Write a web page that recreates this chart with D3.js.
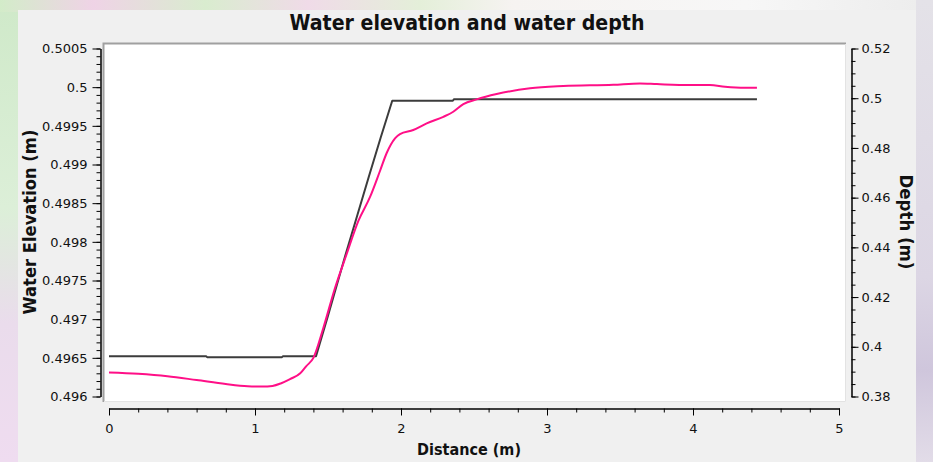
<!DOCTYPE html>
<html>
<head>
<meta charset="utf-8">
<script src="https://cdn.jsdelivr.net/npm/d3@7"></script>
<style>
  html, body { margin: 0; padding: 0; background: #f0f0f0; }
  svg { display: block; }
</style>
</head>
<body>
<svg id="chart" width="933" height="462"></svg>
<script>
// Water elevation along the channel (left axis)
const elevationDistance = [0, 0.2, 0.4, 0.6, 0.8, 0.95, 1.05, 1.12, 1.18, 1.24, 1.31, 1.35, 1.40,
  1.468, 1.548, 1.628, 1.708, 1.788, 1.856, 1.902, 1.959, 1.993, 2.084, 2.176, 2.290, 2.358, 2.427,
  2.518, 2.655, 2.884, 3.112, 3.454, 3.637, 3.753, 3.979, 4.116, 4.219, 4.356, 4.438];
const elevation = [0.496311, 0.496293, 0.496262, 0.496213, 0.496162, 0.496134, 0.496129, 0.496137,
  0.496172, 0.496225, 0.496300, 0.496390, 0.496500,
  0.496886, 0.497403, 0.497843, 0.498270, 0.498580, 0.498916, 0.499149, 0.499339, 0.499394, 0.499446,
  0.499531, 0.499617, 0.499682, 0.499781, 0.499842, 0.499911,
  0.499985, 0.500014, 0.500031, 0.500049, 0.500040, 0.500027, 0.500027, 0.500005, 0.499992, 0.499992];

// Water depth along the channel (right axis)
const depthDistance = [0, 0.665, 0.672, 1.185, 1.192, 1.418, 1.50, 1.62, 1.78, 1.86,
  1.940, 2.355, 2.362, 4.438];
const depth = [0.39624, 0.39624, 0.39583, 0.39583, 0.39624, 0.39624, 0.4125, 0.4370, 0.4685, 0.4840,
  0.49898, 0.49898, 0.49954, 0.49954];

const elevationTicks = [0.496, 0.4965, 0.497, 0.4975, 0.498, 0.4985, 0.499, 0.4995, 0.5, 0.5005];
const depthTicks = [0.38, 0.40, 0.42, 0.44, 0.46, 0.48, 0.50, 0.52];
const distanceTicks = [0, 1, 2, 3, 4, 5];

const titleText = "Water elevation and water depth";
const xTitle = "Distance (m)";
const yLeftTitle = "Water Elevation (m)";
const yRightTitle = "Depth (m)";

const svg = d3.select("#chart");
const W = 933, H = 462;

// ---- surrounding desktop backdrop ----
const defs = svg.append("defs");
const gLeft = defs.append("linearGradient").attr("id", "gl").attr("x1", 0).attr("y1", 0).attr("x2", 0).attr("y2", 1);
gLeft.append("stop").attr("offset", "0%").attr("stop-color", "#cfe9c9");
gLeft.append("stop").attr("offset", "45%").attr("stop-color", "#dcefd8");
gLeft.append("stop").attr("offset", "70%").attr("stop-color", "#eadcec");
gLeft.append("stop").attr("offset", "100%").attr("stop-color", "#efdcf0");
const gTop = defs.append("linearGradient").attr("id", "gt").attr("x1", 0).attr("y1", 0).attr("x2", 1).attr("y2", 0);
[["0%", "#d3ecc9"], ["10%", "#efd3e6"], ["22%", "#d9eccf"], ["33%", "#f0dbe8"], ["45%", "#e4efd9"],
 ["55%", "#f6f3f1"], ["80%", "#f7f7f7"], ["100%", "#ececec"]]
  .forEach(([o, c]) => gTop.append("stop").attr("offset", o).attr("stop-color", c));
const gRight = defs.append("linearGradient").attr("id", "gr").attr("x1", 0).attr("y1", 0).attr("x2", 0).attr("y2", 1);
gRight.append("stop").attr("offset", "0%").attr("stop-color", "#e4e2e8");
gRight.append("stop").attr("offset", "60%").attr("stop-color", "#dcd6e4");
gRight.append("stop").attr("offset", "80%").attr("stop-color", "#cfc6dc");
gRight.append("stop").attr("offset", "100%").attr("stop-color", "#e2dce8");

svg.append("rect").attr("width", W).attr("height", H).attr("fill", "#e8e4ec");
svg.append("rect").attr("x", 0).attr("y", 0).attr("width", 20).attr("height", H).attr("fill", "url(#gl)");
svg.append("rect").attr("x", 0).attr("y", 0).attr("width", W).attr("height", 12).attr("fill", "url(#gt)");
svg.append("rect").attr("x", 916).attr("y", 0).attr("width", W - 916).attr("height", H).attr("fill", "url(#gr)");

// ---- window panel ----
svg.append("rect").attr("x", 18).attr("y", 10).attr("width", 898).attr("height", H - 10).attr("fill", "#f0f0f0");

// ---- plot frame (sunken) ----
const frame = { x0: 103, y0: 43, x1: 846, y1: 402 };
svg.append("rect").attr("x", frame.x0).attr("y", frame.y0)
  .attr("width", frame.x1 - frame.x0).attr("height", frame.y1 - frame.y0).attr("fill", "#ffffff");
svg.append("path")
  .attr("d", `M${frame.x0 + 0.5},${frame.y1}V${frame.y0 + 0.5}H${frame.x1}`)
  .attr("fill", "none").attr("stroke", "#a0a0a0").attr("stroke-width", 2);
svg.append("path")
  .attr("d", `M${frame.x0 + 1},${frame.y1 - 0.5}H${frame.x1 - 0.5}V${frame.y0 + 1}`)
  .attr("fill", "none").attr("stroke", "#e3e3e3").attr("stroke-width", 1);

// ---- scales ----
const x = d3.scaleLinear().domain([0, 5]).range([109, 839]);
const yL = d3.scaleLinear().domain([0.496, 0.5005]).range([396.5, 48.5]);
const yR = d3.scaleLinear().domain([0.38, 0.52]).range([396.5, 48.5]);

const fmt = v => String(+v.toFixed(4));
const tickFont = "'DejaVu Sans', Verdana, sans-serif";

function styleAxis(g) {
  g.selectAll("path.domain").attr("stroke", "#000").attr("stroke-width", 1);
  g.selectAll(".tick line").attr("stroke", "#000");
  g.selectAll("text").attr("fill", "#111").style("font-family", tickFont).style("font-size", "13px");
}

// left axis: minor then major
const minorL = d3.range(0, 46).map(i => 0.496 + i * 0.0001);
svg.append("g").attr("transform", "translate(100.5,0)")
  .call(d3.axisLeft(yL).tickValues(minorL).tickSize(4).tickSizeOuter(0).tickFormat(""))
  .call(styleAxis);
svg.append("g").attr("transform", "translate(100.5,0)")
  .call(d3.axisLeft(yL).tickValues(elevationTicks).tickSize(8).tickSizeOuter(0).tickPadding(5).tickFormat(fmt))
  .call(styleAxis);

// right axis
const minorR = d3.range(0, 29).map(i => 0.38 + i * 0.005);
svg.append("g").attr("transform", "translate(851.5,0)")
  .call(d3.axisRight(yR).tickValues(minorR).tickSize(4).tickSizeOuter(0).tickFormat(""))
  .call(styleAxis);
svg.append("g").attr("transform", "translate(851.5,0)")
  .call(d3.axisRight(yR).tickValues(depthTicks).tickSize(7).tickSizeOuter(0).tickPadding(3).tickFormat(fmt))
  .call(styleAxis);

// bottom axis
const minorX = d3.range(0, 26).map(i => i * 0.2);
svg.append("g").attr("transform", "translate(0,408.5)")
  .call(d3.axisBottom(x).tickValues(minorX).tickSize(4).tickSizeOuter(0).tickFormat(""))
  .call(styleAxis);
svg.append("g").attr("transform", "translate(0,408.5)")
  .call(d3.axisBottom(x).tickValues(distanceTicks).tickSize(7).tickSizeOuter(0).tickPadding(8).tickFormat(d3.format("d")))
  .call(styleAxis);

// ---- series ----
const elevPts = elevationDistance.map((d, i) => [d, elevation[i]]);
const depthPts = depthDistance.map((d, i) => [d, depth[i]]);

svg.append("path").datum(depthPts)
  .attr("fill", "none").attr("stroke", "#3c3c3c").attr("stroke-width", 2).attr("stroke-linejoin", "round")
  .attr("d", d3.line().x(p => x(p[0])).y(p => yR(p[1])));

svg.append("path").datum(elevPts)
  .attr("fill", "none").attr("stroke", "#ff0f87").attr("stroke-width", 2).attr("stroke-linejoin", "round")
  .attr("d", d3.line().x(p => x(p[0])).y(p => yL(p[1])).curve(d3.curveMonotoneX));

// ---- titles ----
const boldFont = "'DejaVu Sans Condensed', 'DejaVu Sans', sans-serif";
function fit(sel, width) {
  const len = sel.node().getComputedTextLength();
  const fs = parseFloat(sel.attr("font-size"));
  sel.attr("font-size", (fs * width / len).toFixed(2));
  return sel;
}

fit(svg.append("text").text(titleText)
  .attr("x", 467).attr("y", 30).attr("text-anchor", "middle")
  .attr("font-family", boldFont).attr("font-weight", "bold").attr("font-size", 18).attr("fill", "#111"), 355);

fit(svg.append("text").text(xTitle)
  .attr("x", 469).attr("y", 455).attr("text-anchor", "middle")
  .attr("font-family", boldFont).attr("font-weight", "bold").attr("font-size", 16).attr("fill", "#111"), 104);

fit(svg.append("text").text(yLeftTitle)
  .attr("transform", "translate(36,222) rotate(-90)").attr("text-anchor", "middle")
  .attr("font-family", boldFont).attr("font-weight", "bold").attr("font-size", 16).attr("fill", "#111"), 185);

fit(svg.append("text").text(yRightTitle)
  .attr("transform", "translate(900,222) rotate(90)").attr("text-anchor", "middle")
  .attr("font-family", boldFont).attr("font-weight", "bold").attr("font-size", 16).attr("fill", "#111"), 95);
</script>
</body>
</html>
